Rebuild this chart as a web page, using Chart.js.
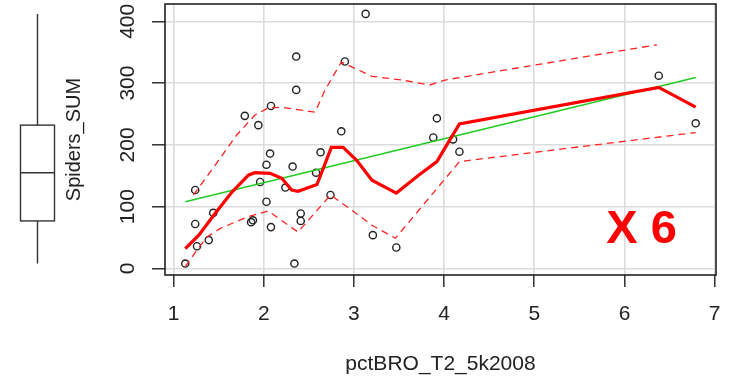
<!DOCTYPE html>
<html>
<head>
<meta charset="utf-8">
<script src="https://cdn.jsdelivr.net/npm/chart.js@4/dist/chart.umd.min.js"></script>
<style>
  html, body { margin: 0; padding: 0; background: #fff; }
  #wrap { width: 731px; height: 378px; }
</style>
</head>
<body>
<div id="wrap"><canvas id="c" width="731" height="378"></canvas></div>
<script>
// Observations: brown-habitat percentage vs. summed spider counts
const pctBRO = [1.13, 1.24, 1.24, 1.26, 1.39, 1.44, 1.79, 1.94, 1.86, 1.88, 1.96, 2.03, 2.03,
                2.07, 2.08, 2.08, 2.24, 2.32, 2.36, 2.36, 2.34, 2.41, 2.41, 2.58, 2.63, 2.74,
                2.86, 2.90, 3.13, 3.21, 3.47, 3.92, 3.88, 4.10, 4.17, 6.38, 6.79];
const spidersSUM = [8, 127, 72, 36, 46, 90, 247, 232, 75, 78, 140, 108, 168,
                    186, 263, 67, 131, 165, 343, 289, 8, 89, 77, 155, 188, 119,
                    222, 335, 412, 54, 34, 243, 212, 209, 189, 312, 235];

// Linear fit
const fitX = [1.13, 6.79];
const fitY = [108, 309];

// Smoother and its spread bands
const smoothX = [1.13, 1.28, 1.46, 1.65, 1.83, 1.90, 2.07, 2.20, 2.31, 2.38, 2.59, 2.66, 2.75,
                 2.88, 3.03, 3.20, 3.47, 3.71, 3.92, 4.05, 4.17, 6.38, 6.79];
const smoothY = [32, 54, 89, 124, 151, 155, 154, 146, 127, 125, 136, 162, 196,
                 196, 175, 143, 122, 150, 173, 205, 234, 293, 261];
const upperX = [1.22, 1.46, 1.70, 1.90, 2.05, 2.20, 2.57, 2.68, 2.86, 2.98, 3.20, 3.53, 3.84, 4.01, 6.36];
const upperY = [119, 167, 216, 248, 260, 261, 253, 289, 334, 326, 311, 305, 297, 305, 362];
const lowerX = [1.13, 1.26, 1.37, 1.52, 1.68, 1.83, 2.05, 2.38, 2.74, 2.98, 3.20, 3.46, 4.17, 6.79];
const lowerY = [3, 30, 51, 65, 75, 84, 93, 59, 119, 94, 70, 49, 173, 220];

// Axis ticks
const xTicks = [1, 2, 3, 4, 5, 6, 7];
const yTicks = [0, 100, 200, 300, 400];

const FONT = '"Liberation Sans", Arial, Helvetica, sans-serif';
const INK = '#222';

function pairs(xs, ys) { return xs.map((x, i) => ({ x: x, y: ys[i] })); }

// Tukey five-number summary for the marginal boxplot
function fivenum(values) {
  const s = values.slice().sort((a, b) => a - b);
  const n = s.length;
  const n4 = Math.floor((n + 3) / 2) / 2;
  const idx = [1, n4, (n + 1) / 2, n + 1 - n4, n];
  return idx.map(d => 0.5 * (s[Math.floor(d) - 1] + s[Math.ceil(d) - 1]));
}

const decorations = {
  id: 'decorations',
  afterDatasetsDraw(chart) {
    const { ctx, chartArea: a, scales: { x, y } } = chart;
    ctx.save();

    // plot frame
    ctx.strokeStyle = INK;
    ctx.lineWidth = 1.6;
    ctx.strokeRect(a.left, a.top, a.right - a.left, a.bottom - a.top);

    // x tick labels
    ctx.fillStyle = INK;
    ctx.font = '21px ' + FONT;
    ctx.textAlign = 'center';
    ctx.textBaseline = 'alphabetic';
    xTicks.forEach(v => ctx.fillText(String(v), x.getPixelForValue(v), 320));

    // y tick labels, rotated
    yTicks.forEach(v => {
      ctx.save();
      ctx.translate(134, y.getPixelForValue(v));
      ctx.rotate(-Math.PI / 2);
      ctx.fillText(String(v), 0, 0);
      ctx.restore();
    });

    // axis titles
    ctx.font = '21px ' + FONT;
    ctx.fillText('pctBRO_T2_5k2008', (a.left + a.right) / 2, 370);
    ctx.save();
    ctx.translate(80, (a.top + a.bottom) / 2);
    ctx.rotate(-Math.PI / 2);
    ctx.font = '20px ' + FONT;
    ctx.fillText('Spiders_SUM', 0, 0);
    ctx.restore();

    // marginal boxplot of the response
    const [lo, q1, med, q3, hi] = fivenum(spidersSUM);
    const cx = 37.5, hw = 17;
    ctx.strokeStyle = '#333';
    ctx.lineWidth = 1.4;
    ctx.beginPath();
    ctx.moveTo(cx, y.getPixelForValue(hi));
    ctx.lineTo(cx, y.getPixelForValue(q3));
    ctx.moveTo(cx, y.getPixelForValue(q1));
    ctx.lineTo(cx, y.getPixelForValue(lo));
    ctx.stroke();
    const top = y.getPixelForValue(q3), bot = y.getPixelForValue(q1);
    ctx.strokeRect(cx - hw, top, hw * 2, bot - top);
    ctx.beginPath();
    ctx.moveTo(cx - hw, y.getPixelForValue(med));
    ctx.lineTo(cx + hw, y.getPixelForValue(med));
    ctx.stroke();

    // panel tag
    ctx.fillStyle = '#ff0000';
    ctx.font = 'bold 47px ' + FONT;
    ctx.textAlign = 'center';
    ctx.fillText('X 6', x.getPixelForValue(6.19), y.getPixelForValue(42));

    ctx.restore();
  }
};

new Chart(document.getElementById('c'), {
  type: 'scatter',
  data: {
    datasets: [
      {
        type: 'line', label: 'smooth', data: pairs(smoothX, smoothY),
        borderColor: '#ff0000', borderWidth: 3.2, pointRadius: 0, tension: 0, order: 1
      },
      {
        type: 'line', label: 'upper', data: pairs(upperX, upperY),
        borderColor: '#ff2020', borderWidth: 1.3, borderDash: [7, 5], pointRadius: 0, tension: 0, order: 2
      },
      {
        type: 'line', label: 'lower', data: pairs(lowerX, lowerY),
        borderColor: '#ff2020', borderWidth: 1.3, borderDash: [7, 5], pointRadius: 0, tension: 0, order: 2
      },
      {
        type: 'line', label: 'fit', data: pairs(fitX, fitY),
        borderColor: '#22cc22', borderWidth: 1.4, pointRadius: 0, tension: 0, order: 3
      },
      {
        label: 'Spiders_SUM', data: pairs(pctBRO, spidersSUM),
        pointStyle: 'circle', pointRadius: 3.6, borderWidth: 1.4,
        borderColor: '#222', backgroundColor: 'rgba(0,0,0,0)', order: 5
      }
    ]
  },
  options: {
    responsive: false,
    animation: false,
    events: [],
    layout: { padding: { top: 4, right: 15, left: 0, bottom: 0 }, autoPadding: false },
    plugins: { legend: { display: false }, tooltip: { enabled: false } },
    scales: {
      x: {
        type: 'linear', min: 0.905, max: 7.015,
        afterBuildTicks: s => { s.ticks = xTicks.map(v => ({ value: v })); },
        afterFit: s => { s.height = 103; },
        ticks: { display: false },
        border: { display: false },
        grid: { color: '#dcdcdc', lineWidth: 1.6, drawTicks: true, tickLength: 12, tickColor: INK, tickWidth: 1.4 }
      },
      y: {
        type: 'linear', min: -10.5, max: 428,
        afterBuildTicks: s => { s.ticks = yTicks.map(v => ({ value: v })); },
        afterFit: s => { s.width = 165; },
        ticks: { display: false },
        border: { display: false },
        grid: { color: '#dcdcdc', lineWidth: 1.6, drawTicks: true, tickLength: 13, tickColor: INK, tickWidth: 1.4 }
      }
    }
  },
  plugins: [decorations]
});
</script>
</body>
</html>
